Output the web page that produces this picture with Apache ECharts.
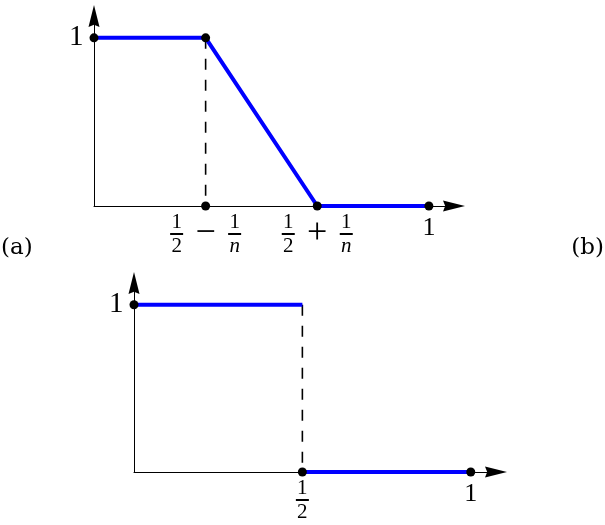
<!DOCTYPE html>
<html>
  <head>
    <meta charset="UTF-8">
    <title>Step functions</title>
    <script src="https://cdn.jsdelivr.net/npm/echarts@6/dist/echarts.min.js"></script>
    <style>
      html, body { margin: 0; padding: 0; background: #fff; }
      #chart { width: 605px; height: 525px; }
    </style>
  </head>
  <body>
    <div id="chart"></div>
    <script type="text/javascript">
     // (a): continuous ramp, n = 6
     var topCurve = [[0, 1], [1 / 3, 1], [2 / 3, 0], [1, 0]];
     var topDash = [[1 / 3, 1], [1 / 3, 0]];
     var topYTicks = [[0, 1]];
     var topXTicks = [[1 / 3, 0], [2 / 3, 0], [1, 0]];
     var topXTickLabels = [[['1', '2'], '−', ['1', 'n']], [['1', '2'], '+', ['1', 'n']], '1'];
     var topExtraDots = [[1 / 3, 1]];

     // (b): step at 1/2
     var botCurveLeft = [[0, 1], [0.5, 1]];
     var botCurveRight = [[0.5, 0], [1, 0]];
     var botDash = [[0.5, 1], [0.5, 0]];
     var botYTicks = [[0, 1]];
     var botXTicks = [[0.5, 0], [1, 0]];
     var botXTickLabels = [[['1', '2']], '1'];

     var yTickLabel = '1';
     var panelNames = ['(a)', '(b)'];

     var serif = 'Liberation Serif';
     var rich = {
       big: { fontFamily: serif, fontSize: 26, lineHeight: 26, color: '#000' },
       fn: { fontFamily: serif, fontSize: 21, width: 13, align: 'center', lineHeight: 17, color: '#000' },
       fd: { fontFamily: serif, fontSize: 21, width: 13, align: 'center', lineHeight: 17, color: '#000' },
       fdi: { fontFamily: serif, fontSize: 21, fontStyle: 'italic', width: 13, align: 'center', lineHeight: 17, color: '#000' },
       bar: { fontSize: 2, width: 13, height: 2, lineHeight: 7, align: 'center', backgroundColor: '#000' },
       op: { fontFamily: serif, fontSize: 36, width: 45, align: 'center', lineHeight: 7, color: '#000' },
       gap: { fontSize: 2, width: 45, align: 'center', lineHeight: 17 }
     };

     // 把 [分子, 分母] 和运算符拼成三行的 rich 文本
     function richLabel(lab) {
       if (typeof lab === 'string') return '{big|' + lab + '}';
       var top = [], mid = [], bot = [];
       lab.forEach(function (p) {
         if (Array.isArray(p)) {
           top.push('{fn|' + p[0] + '}');
           mid.push('{bar| }');
           bot.push(p[1] === 'n' ? '{fdi|n}' : '{fd|' + p[1] + '}');
         } else {
           top.push('{gap| }');
           mid.push('{op|' + p + '}');
           bot.push('{gap| }');
         }
       });
       return [top.join(''), mid.join(''), bot.join('')].join('\n');
     }

     function dotData(yTicks, xTicks, xLabels, extra) {
       var out = [];
       yTicks.forEach(function (p) {
         out.push({ value: p, label: { show: true, position: 'left', distance: 6,
           formatter: yTickLabel, fontFamily: serif, fontSize: 29, color: '#000' } });
       });
       (extra || []).forEach(function (p) { out.push({ value: p }); });
       xTicks.forEach(function (p, i) {
         var lab = xLabels[i];
         out.push({ value: p, label: { show: true, position: 'bottom',
           distance: typeof lab === 'string' ? 5 : 3,
           formatter: richLabel(lab), rich: rich } });
       });
       return out;
     }

     var axisArrow = 'path://M5,0 L10,20 L5,18 L0,20 Z';
     function xAx(i) {
       return { type: 'value', gridIndex: i, min: 0, max: 1.075, splitLine: { show: false },
         axisTick: { show: false }, axisLabel: { show: false },
         axisLine: { lineStyle: { color: '#000', width: 1 }, symbol: ['none', axisArrow], symbolSize: [14, 22] } };
     }
     function yAx(i) {
       return { type: 'value', gridIndex: i, min: 0, max: 1.13, splitLine: { show: false },
         axisTick: { show: false }, axisLabel: { show: false },
         axisLine: { lineStyle: { color: '#000', width: 1 }, symbol: ['none', axisArrow], symbolSize: [12, 22] } };
     }
     function dashSeries(i, data) {
       return { type: 'line', xAxisIndex: i, yAxisIndex: i, data: data, symbol: 'none', silent: true,
         lineStyle: { color: '#000', width: 1.6, type: [11, 10] }, z: 1 };
     }
     function blueSeries(i, data) {
       return { type: 'line', xAxisIndex: i, yAxisIndex: i, data: data, symbol: 'none', silent: true,
         lineStyle: { color: '#0000ff', width: 4 }, z: 2 };
     }
     function dotSeries(i, data) {
       return { type: 'scatter', xAxisIndex: i, yAxisIndex: i, data: data, symbolSize: 9,
         itemStyle: { color: '#000', opacity: 1 }, silent: true, z: 3 };
     }

     var chart = echarts.init(document.getElementById('chart'));
     chart.setOption({
       animation: false,
       title: [
         { text: panelNames[0], left: 1, top: 237, padding: 0,
           textStyle: { fontFamily: 'DejaVu Serif', fontSize: 23, fontWeight: 'normal', color: '#000' } },
         { text: panelNames[1], right: 1, top: 237, padding: 0,
           textStyle: { fontFamily: 'DejaVu Serif', fontSize: 23, fontWeight: 'normal', color: '#000' } }
       ],
       grid: [
         { left: 94, top: 16, width: 360, height: 190 },
         { left: 134, top: 283, width: 362, height: 189 }
       ],
       xAxis: [xAx(0), xAx(1)],
       yAxis: [yAx(0), yAx(1)],
       series: [
         dashSeries(0, topDash),
         blueSeries(0, topCurve),
         dotSeries(0, dotData(topYTicks, topXTicks, topXTickLabels, topExtraDots)),
         dashSeries(1, botDash),
         blueSeries(1, botCurveLeft),
         blueSeries(1, botCurveRight),
         dotSeries(1, dotData(botYTicks, botXTicks, botXTickLabels))
       ]
     });
    </script>
  </body>
</html>
